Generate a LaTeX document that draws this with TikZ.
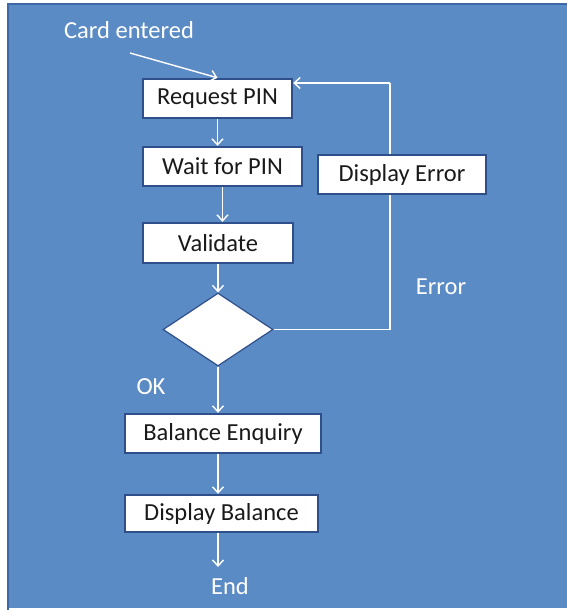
\documentclass[tikz,border=0pt]{standalone}
\usepackage{fontspec}
\setmainfont{Carlito}
\usetikzlibrary{shapes.geometric,arrows.meta}
\definecolor{bgblue}{HTML}{5B8BC5}
\definecolor{frameblue}{HTML}{3E68A6}
\definecolor{boxborder}{HTML}{2E4F8A}
\definecolor{boxtext}{HTML}{1A1A1A}
\begin{document}
\begin{tikzpicture}[x=1pt,y=-1pt,
  stepbox/.style={draw=boxborder,line width=2.4pt,fill=white,text=boxtext,
    font=\fontsize{24.5}{28}\selectfont,inner sep=0pt,minimum height=39pt},
  decision/.style={shape=diamond,draw=boxborder,line width=1.2pt,fill=white,
    inner sep=0pt,minimum width=110pt,minimum height=73pt},
  lbl/.style={text=white,font=\fontsize{24.5}{28}\selectfont,inner sep=0pt},
  flow/.style={draw=white,line width=1.4pt,-{Straight Barb[length=6pt,width=11pt,line width=1.4pt]}},
  plain/.style={draw=white,line width=1.4pt}]
\useasboundingbox (0,0) rectangle (567,610);
\fill[white] (0,0) rectangle (567,610);
\fill[bgblue] (7,3) rectangle (567,608);
\draw[frameblue,line width=2pt] (8,610) -- (8,4) -- (567,4);

\node[lbl] (card) at (129,30) {Card entered};
\node[stepbox,minimum width=149pt] (req) at (217.5,98.5) {Request PIN};
\node[stepbox,minimum width=159pt] (wait) at (222.5,166.5) {Wait for PIN};
\node[stepbox,minimum width=150pt,minimum height=40pt] (val) at (218,243) {Validate};
\node[decision] (dia) at (218,329.5) {};
\node[stepbox,minimum width=196pt] (bal) at (223,433.5) {Balance Enquiry};
\node[stepbox,minimum width=193pt,minimum height=37pt] (disp) at (221.5,513.5) {Display Balance};
\node[lbl] (err) at (441,287) {Error};
\node[lbl] (ok) at (151,387) {OK};
\node[lbl] (endl) at (230,586) {End};

\coordinate (cstart) at (130,53);
\coordinate (loopb) at (390,329.5);
\coordinate (loopt) at (390,83);
\coordinate (endpt) at (218,567);

\draw[flow] (cstart) -- (req.north);
\draw[flow] (req.south) -- (req.south |- wait.north);
\draw[flow] (wait.south) -- (wait.south |- val.north);
\draw[flow] (val.south) -- (dia.north);
\draw[plain] (dia.east) -- (loopb) -- (loopt);
\draw[flow] (loopt) -- (req.east |- loopt);
\draw[flow] (dia.south) -- (dia.south |- bal.north);
\draw[flow] (dia.south |- bal.south) -- (dia.south |- disp.north);
\draw[flow] (dia.south |- disp.south) -- (endpt);

\node[stepbox,minimum width=168pt] (derr) at (402,174.5) {Display Error};
\end{tikzpicture}
\end{document}
